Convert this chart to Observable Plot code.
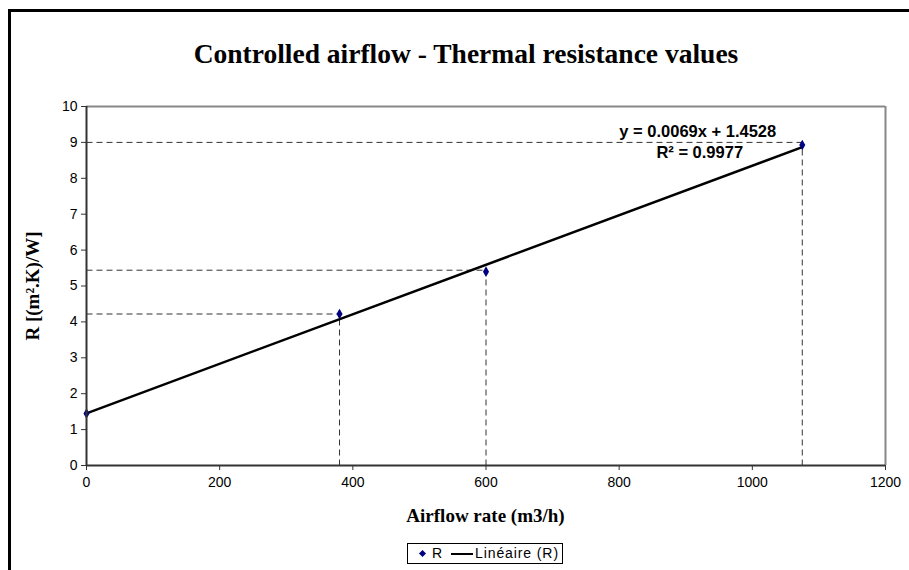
<!DOCTYPE html>
<html>
<head>
<meta charset="utf-8">
<script src="https://cdn.jsdelivr.net/npm/d3@7"></script>
<script src="https://cdn.jsdelivr.net/npm/@observablehq/plot@0.6"></script>
<style>
  html, body { margin: 0; padding: 0; background: #fff; overflow: hidden; }
  #wrap { position: relative; width: 909px; height: 570px; overflow: hidden; }
  #frame { position: absolute; left: 8px; top: 9px; width: 1000px; height: 1000px; border: 3px solid #000; box-sizing: border-box; }
  #chart { position: absolute; left: 0; top: 0; }
  .title { position: absolute; left: 0; width: 932px; top: 38px; line-height: 32px; text-align: center;
    font: bold 27.5px "Liberation Serif", "Times New Roman", serif; color: #000; }
  .xlabel { position: absolute; left: 86px; width: 799px; top: 505px; line-height: 24px; text-align: center;
    font: bold 19px "Liberation Serif", serif; color: #000; }
  .ylabel { position: absolute; left: 33px; top: 286px; transform: translate(-50%, -50%) rotate(-90deg);
    font: bold 19px "Liberation Serif", serif; color: #000; white-space: nowrap; }
  .legend { position: absolute; left: 407px; top: 543px; width: 156px; height: 21px; box-sizing: border-box;
    border: 1px solid #000; font: 14px "Liberation Sans", Arial, sans-serif; }
  .legend span { position: absolute; top: 1px; line-height: 17px; }
  .legend .dia { position: absolute; left: 12px; top: 7px; width: 5px; height: 5px; background: #000080; transform: rotate(45deg); }
  .legend .ln { position: absolute; left: 43px; top: 9px; width: 22px; height: 2px; background: #000; }
</style>
</head>
<body>
<div id="wrap">
  <div id="frame"></div>
  <div id="chart"></div>
  <div class="title">Controlled airflow - Thermal resistance values</div>
  <div class="xlabel">Airflow rate (m3/h)</div>
  <div class="ylabel">R [(m².K)/W]</div>
  <div class="legend"><div class="dia"></div><span style="left:24px">R</span><div class="ln"></div><span style="left:67px;letter-spacing:0.9px">Linéaire (R)</span></div>
</div>
<script>
// Data
const airflow = [0, 380, 600, 1075];
const resistance = [1.45, 4.22, 5.40, 8.93];
const guideY = [4.22, 5.44, 9.0];      // horizontal dashed guides
const guideX = [380, 600, 1075];       // vertical dashed guides
const guideTop = [4.22, 5.40, 8.93];
const trendX = [0, 1075];
const trendY = [1.4528, 8.87];
const xTicks = [0, 200, 400, 600, 800, 1000, 1200];
const yTicks = [0, 1, 2, 3, 4, 5, 6, 7, 8, 9, 10];
const equation = "y = 0.0069x + 1.4528";
const r2 = "R² = 0.9977";

const points = airflow.map((x, i) => ({x, y: resistance[i]}));
const hGuides = guideY.map((y, i) => ({x1: 0, x2: guideX[i], y}));
const vGuides = guideX.map((x, i) => ({x, y1: 0, y2: guideTop[i]}));
const trend = trendX.map((x, i) => ({x, y: trendY[i]}));

const chart = Plot.plot({
  width: 909,
  height: 570,
  marginLeft: 86,
  marginRight: 24,
  marginTop: 106,
  marginBottom: 105,
  style: {fontFamily: "'Liberation Sans', Arial, sans-serif", fontSize: "14px", color: "#000", background: "transparent"},
  x: {domain: [0, 1200]},
  y: {domain: [0, 10]},
  marks: [
    Plot.ruleY([10], {stroke: "#888", strokeWidth: 2}),
    Plot.ruleX([1200], {stroke: "#888", strokeWidth: 2}),
    Plot.link(hGuides, {x1: "x1", x2: "x2", y1: "y", y2: "y", stroke: "#333", strokeWidth: 1, strokeDasharray: "6,4"}),
    Plot.link(vGuides, {x1: "x", x2: "x", y1: "y1", y2: "y2", stroke: "#333", strokeWidth: 1, strokeDasharray: "6,4"}),
    Plot.line(trend, {x: "x", y: "y", stroke: "#000", strokeWidth: 2.5}),
    Plot.dot(points, {x: "x", y: "y", symbol: "diamond", r: 3.2, fill: "#000080", stroke: "none"}),
    Plot.axisX({ticks: xTicks, tickFormat: d3.format("d"), tickSize: 5, tickPadding: 7, label: null, stroke: "#333", fontSize: 14}),
    Plot.axisY({ticks: yTicks, tickFormat: d3.format("d"), tickSize: 5, tickPadding: 4, label: null, stroke: "#333", fontSize: 14}),
    Plot.ruleX([0], {stroke: "#333", strokeWidth: 2}),
    Plot.ruleY([0], {stroke: "#333", strokeWidth: 2}),
    Plot.text([equation], {x: 918, y: 9.3, text: d => d, fontWeight: "bold", fontSize: 16.5, fill: "#000"}),
    Plot.text([r2], {x: 921, y: 8.72, text: d => d, fontWeight: "bold", fontSize: 16.5, fill: "#000"})
  ]
});
document.getElementById("chart").appendChild(chart);
</script>
</body>
</html>
